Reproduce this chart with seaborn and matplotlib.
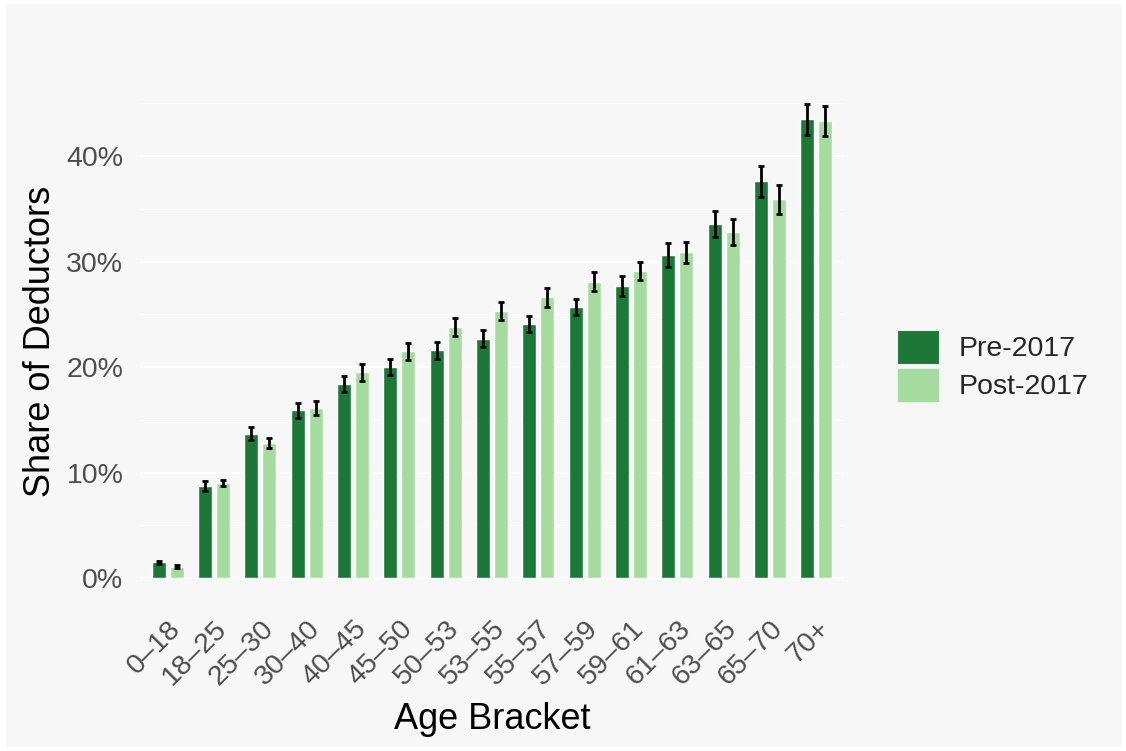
import pandas as pd
import seaborn as sns
import matplotlib.pyplot as plt
from matplotlib.patches import Patch, Rectangle
from matplotlib.ticker import FixedLocator, FuncFormatter

# age brackets and shares (in %)
brackets = ['0–18', '18–25', '25–30', '30–40', '40–45', '45–50', '50–53', '53–55',
            '55–57', '57–59', '59–61', '61–63', '63–65', '65–70', '70+']
pre_2017 = [1.5, 8.7, 13.7, 15.9, 18.4, 20.0, 21.6, 22.7, 24.1, 25.7, 27.7, 30.6, 33.6, 37.6, 43.5]
post_2017 = [1.1, 9.0, 12.8, 16.1, 19.5, 21.5, 23.8, 25.3, 26.6, 28.1, 29.1, 30.9, 32.8, 35.9, 43.3]
pre_err = [0.15, 0.47, 0.6, 0.73, 0.74, 0.76, 0.79, 0.8, 0.79, 0.8, 0.92, 1.14, 1.23, 1.49, 1.47]
post_err = [0.12, 0.27, 0.47, 0.66, 0.8, 0.8, 0.85, 0.84, 0.9, 0.9, 0.87, 1.0, 1.2, 1.4, 1.45]
periods = ['Pre-2017', 'Post-2017']
colors = ['#1b7837', '#a6dba0']

df = pd.DataFrame({
    'Age Bracket': brackets * 2,
    'Share': pre_2017 + post_2017,
    'Period': [periods[0]] * len(brackets) + [periods[1]] * len(brackets),
})

bg = '#f7f7f7'
sns.set_style('white')
plt.rcParams['font.family'] = ['Liberation Sans', 'DejaVu Sans']

fig = plt.figure(figsize=(11.26, 7.51), dpi=100, facecolor='white')
fig.patches.append(Rectangle((6 / 1126, 4 / 751), 1 - 10 / 1126, 1 - 8 / 751,
                             transform=fig.transFigure, facecolor=bg, edgecolor='none', zorder=-10))
ax = fig.add_axes([140 / 1126, 1 - 602 / 751, 704 / 1126, 522 / 751])
ax.set_facecolor(bg)

sns.barplot(data=df, x='Age Bracket', y='Share', hue='Period', order=brackets,
            hue_order=periods, palette=colors, width=0.78, gap=0.22,
            errorbar=None, saturation=1, legend=False, ax=ax, zorder=3)

# error bars on top of each bar
for cont, vals, errs in zip(ax.containers, [pre_2017, post_2017], [pre_err, post_err]):
    xs = [b.get_x() + b.get_width() / 2 for b in cont]
    ax.errorbar(xs, vals, yerr=errs, fmt='none', ecolor='black',
                elinewidth=2.0, capsize=2.4, capthick=2.0, zorder=4)

ax.set_xlim(-0.6, len(brackets) - 0.4)
ax.set_ylim(-2.25, 47.2)
ax.yaxis.set_major_locator(FixedLocator([0, 10, 20, 30, 40]))
ax.yaxis.set_minor_locator(FixedLocator([5, 15, 25, 35, 45]))
ax.yaxis.set_major_formatter(FuncFormatter(lambda v, p: f'{v:.0f}%'))
ax.grid(axis='y', which='major', color='white', linewidth=1.6, zorder=0)
ax.grid(axis='y', which='minor', color='white', linewidth=0.8, zorder=0)
ax.grid(axis='x', visible=False)
ax.set_axisbelow(True)
for s in ax.spines.values():
    s.set_visible(False)

ax.tick_params(axis='y', which='both', length=0, pad=12, labelsize=20.5, labelcolor='#4d4d4d')
ax.tick_params(axis='x', length=0, pad=10, labelsize=20.5, labelcolor='#4d4d4d')
plt.setp(ax.get_xticklabels(), rotation=45, ha='right', rotation_mode='anchor')

ax.set_xlabel('Age Bracket', fontsize=26, color='black', labelpad=8)
ax.set_ylabel('Share of Deductors', fontsize=26, color='black', labelpad=6)

handles = [Patch(facecolor=c, edgecolor='#e8f3e8', linewidth=0.8) for c in colors]
fig.legend(handles, periods, loc='center left', bbox_to_anchor=(897 / 1126, 1 - 366 / 751),
           frameon=False, fontsize=20.5, handlelength=1.46, handleheight=1.46,
           labelspacing=0.14, handletextpad=0.72, borderpad=0, borderaxespad=0)

fig.savefig('out.png', dpi=100, facecolor='white')
